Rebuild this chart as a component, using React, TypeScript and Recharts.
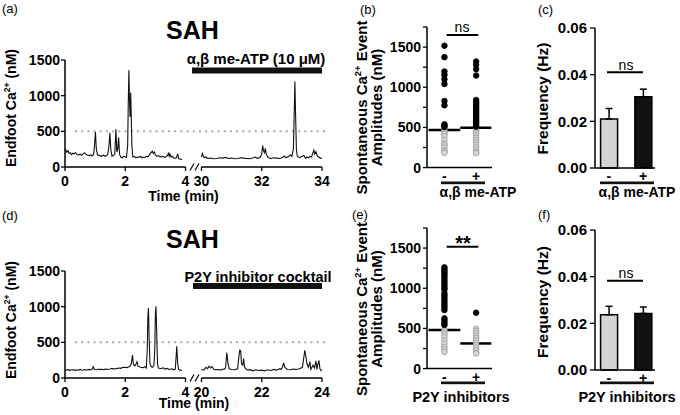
import React from 'react';
import {
  LineChart, Line, XAxis, YAxis, ReferenceLine,
  ScatterChart, Scatter, BarChart, Bar, Cell, ErrorBar,
} from 'recharts';

const FONT = '"Liberation Sans", Arial, Helvetica, sans-serif';

// ---------- Trace data: [time (min), Ca2+ (nM)] ----------
const traceA_seg1: number[][] = [
  [0.00, 250], [0.03, 240], [0.06, 205], [0.10, 230], [0.14, 190], [0.18, 200], [0.22, 175], [0.26, 195],
  [0.30, 185], [0.35, 200], [0.40, 175], [0.45, 170], [0.50, 180], [0.55, 165], [0.60, 185], [0.65, 200],
  [0.70, 175], [0.75, 165], [0.80, 160], [0.85, 170], [0.90, 155], [0.95, 175], [0.98, 300], [1.01, 490],
  [1.04, 250], [1.08, 170], [1.15, 160], [1.20, 150], [1.28, 165], [1.35, 150], [1.42, 175], [1.46, 300],
  [1.49, 480], [1.52, 250], [1.56, 150], [1.60, 160], [1.65, 180], [1.67, 350], [1.69, 530], [1.72, 210],
  [1.75, 250], [1.78, 415], [1.81, 180], [1.85, 140], [1.90, 130], [1.95, 150], [2.00, 145], [2.04, 135],
  [2.08, 300], [2.10, 900], [2.12, 1356], [2.14, 950], [2.16, 700], [2.17, 780], [2.18, 1040], [2.20, 700],
  [2.22, 300], [2.25, 140], [2.30, 150], [2.35, 130], [2.40, 140], [2.45, 135], [2.50, 150], [2.55, 130],
  [2.60, 140], [2.65, 135], [2.70, 150], [2.75, 140], [2.80, 170], [2.85, 200], [2.90, 220], [2.93, 190],
  [2.97, 210], [3.00, 170], [3.05, 150], [3.10, 160], [3.15, 145], [3.20, 140], [3.25, 150], [3.30, 135],
  [3.35, 145], [3.40, 160], [3.43, 190], [3.46, 150], [3.48, 185], [3.52, 140], [3.56, 150], [3.60, 130],
  [3.65, 120], [3.70, 130], [3.74, 185], [3.77, 120], [3.82, 110], [3.88, 105],
];
const traceA_seg2: number[][] = [
  [30.00, 140], [30.03, 190], [30.06, 150], [30.10, 130], [30.15, 140], [30.20, 120], [30.30, 125], [30.40, 115],
  [30.50, 120], [30.60, 130], [30.70, 125], [30.80, 135], [30.90, 120], [31.00, 125], [31.10, 115], [31.20, 120],
  [31.30, 130], [31.40, 125], [31.50, 120], [31.60, 115], [31.70, 125], [31.80, 140], [31.85, 120], [31.90, 125],
  [31.95, 140], [32.00, 180], [32.03, 300], [32.06, 230], [32.09, 200], [32.12, 260], [32.15, 180], [32.20, 140],
  [32.25, 125], [32.30, 120], [32.40, 130], [32.50, 125], [32.60, 120], [32.70, 135], [32.75, 155], [32.80, 130],
  [32.90, 150], [32.95, 170], [33.00, 150], [33.05, 250], [33.08, 800], [33.10, 1200], [33.12, 800], [33.15, 250],
  [33.18, 150], [33.25, 130], [33.30, 140], [33.40, 160], [33.45, 120], [33.50, 140], [33.55, 130], [33.60, 150],
  [33.65, 140], [33.70, 200], [33.73, 235], [33.76, 180], [33.80, 215], [33.85, 150], [33.90, 140], [33.95, 120],
  [34.00, 125],
];
const traceD_seg1: number[][] = [
  [0.00, 115], [0.05, 110], [0.10, 120], [0.15, 105], [0.20, 115], [0.25, 110], [0.30, 118], [0.35, 105],
  [0.40, 115], [0.45, 110], [0.50, 120], [0.55, 112], [0.60, 108], [0.65, 118], [0.70, 110], [0.75, 115],
  [0.80, 120], [0.85, 112], [0.90, 125], [0.94, 157], [0.98, 120], [1.05, 115], [1.10, 125], [1.15, 118],
  [1.20, 122], [1.30, 115], [1.35, 128], [1.40, 120], [1.50, 125], [1.55, 135], [1.60, 128], [1.70, 132],
  [1.80, 140], [1.85, 135], [1.90, 145], [2.00, 150], [2.05, 145], [2.10, 155], [2.15, 160], [2.20, 200],
  [2.24, 320], [2.27, 190], [2.32, 170], [2.36, 200], [2.39, 227], [2.42, 170], [2.50, 150], [2.60, 145],
  [2.65, 160], [2.70, 140], [2.73, 400], [2.75, 850], [2.77, 982], [2.79, 600], [2.82, 200], [2.86, 160],
  [2.90, 150], [2.95, 170], [2.98, 400], [3.00, 900], [3.02, 1005], [3.04, 700], [3.07, 200], [3.10, 140],
  [3.20, 130], [3.25, 145], [3.30, 125], [3.40, 135], [3.45, 120], [3.55, 130], [3.60, 115], [3.66, 125],
  [3.68, 250], [3.71, 445], [3.74, 200], [3.77, 120], [3.82, 110], [3.88, 105],
];
const traceD_seg2: number[][] = [
  [20.00, 125], [20.05, 110], [20.10, 120], [20.15, 150], [20.20, 130], [20.25, 165], [20.30, 140], [20.35, 160],
  [20.40, 125], [20.45, 115], [20.55, 120], [20.65, 110], [20.70, 125], [20.75, 120], [20.80, 140], [20.84, 357],
  [20.88, 200], [20.92, 130], [21.00, 120], [21.10, 115], [21.20, 130], [21.24, 300], [21.27, 389], [21.30, 380],
  [21.33, 200], [21.37, 180], [21.40, 273], [21.43, 150], [21.50, 120], [21.55, 110], [21.60, 120], [21.70, 100],
  [21.80, 115], [21.90, 105], [22.00, 110], [22.10, 100], [22.20, 115], [22.30, 105], [22.40, 120], [22.50, 110],
  [22.60, 130], [22.65, 120], [22.70, 170], [22.73, 213], [22.76, 150], [22.85, 120], [22.95, 115], [23.05, 125],
  [23.15, 120], [23.25, 130], [23.35, 150], [23.40, 300], [23.43, 389], [23.47, 287], [23.50, 200], [23.55, 150],
  [23.60, 230], [23.63, 120], [23.70, 180], [23.75, 140], [23.80, 240], [23.83, 120], [23.87, 200], [23.90, 245],
  [23.93, 130], [23.97, 105], [24.00, 110],
];
const traceA_ticks = ['0', '2', '4', '30', '32', '34'];
const traceD_ticks = ['0', '2', '4', '20', '22', '24'];
const traceYTicks = [0, 500, 1000, 1500];
const threshold = 500;

// ---------- Event amplitudes (nM) ----------
const bMinus = [1517, 1375, 1196, 1154, 1100, 1042, 829, 775, 538, 520, 505, 480, 446, 420, 392, 342, 300, 279, 250, 217, 200, 183];
const bPlus = [1321, 1279, 1225, 1146, 842, 825, 805, 790, 770, 750, 730, 710, 690, 670, 650, 630, 610, 590, 570, 550, 530, 510,
  470, 450, 430, 400, 370, 340, 310, 280, 250, 220, 190, 180];
const bMeans = [467, 496];
const eMinus = [1260, 1235, 1210, 1185, 1160, 1130, 1100, 1070, 1040, 1010, 985, 938, 910, 880, 850, 820, 790, 760, 729,
  625, 600, 570, 542, 479, 450, 420, 390, 350, 310, 270, 240, 208];
const ePlus = [696, 495, 470, 440, 410, 380, 350, 320, 290, 260, 230, 200, 188];
const eMeans = [479, 313];
const ampYTicks = [0, 250, 500, 750, 1000, 1250, 1500, 1750];
const condLabels = ['-', '+'];

// ---------- Frequency (Hz) ----------
const cFreq = [0.021, 0.0305];
const cSem = [0.0045, 0.0033];
const fFreq = [0.0237, 0.0242];
const fSem = [0.0036, 0.0028];
const freqYTicks = [0, 0.02, 0.04, 0.06];
const barFills = ['#d4d4d4', '#111111'];

function XTick(props: any) {
  const { x, y, index, labels, size } = props;
  return (
    <text x={x} y={y} dy={(size || 14) * 0.71} textAnchor="middle" fontFamily={FONT} fontWeight="bold" fontSize={size || 14} fill="#000">
      {labels[index]}
    </text>
  );
}
function YTick(props: any) {
  const { x, y, payload, fmt, size } = props;
  const s = fmt ? fmt(payload.value) : String(payload.value);
  if (!s) return null;
  return (
    <text x={x} y={y} dy={(size || 14) * 0.36} textAnchor="end" fontFamily={FONT} fontWeight="bold" fontSize={size || 14} fill="#000">
      {s}
    </text>
  );
}

const GAP = 0.53;
function buildTrace(seg1: number[][], seg2: number[][]) {
  const start2 = seg2[0][0];
  const out: any[] = seg1.map(([t, v]) => ({ x: t, v }));
  out.push({ x: 4 + GAP / 2, v: null });
  seg2.forEach(([t, v]) => out.push({ x: t - start2 + 4 + GAP, v }));
  return out;
}

function TracePanel({ top, seg1, seg2, labels }: any) {
  const data = buildTrace(seg1, seg2);
  const xt = [0, 2, 4, 4 + GAP, 6 + GAP, 8 + GAP];
  return (
    <div style={{ position: 'absolute', left: 25, top }}>
      <LineChart width={307} height={142} data={data} margin={{ top: 10, right: 10, left: 0, bottom: 0 }}>
        <XAxis type="number" dataKey="x" domain={[0, 8 + GAP]} ticks={xt} interval={0}
          axisLine={false} tickSize={4} tickMargin={5}
          tickLine={{ stroke: '#000', strokeWidth: 1.3 }} tick={<XTick labels={labels} />} height={25} />
        <YAxis type="number" domain={[0, 1500]} ticks={traceYTicks} interval={0} width={40} tickSize={4} tickMargin={1}
          axisLine={{ stroke: '#000', strokeWidth: 1.5 }} tickLine={{ stroke: '#000', strokeWidth: 1.3 }} tick={<YTick />} />
        <ReferenceLine segment={[{ x: 0.33, y: threshold }, { x: 8.73, y: threshold }]} ifOverflow="visible"
          stroke="#a8a8a8" strokeWidth={2} strokeDasharray="2 4.2" />
        <ReferenceLine segment={[{ x: 0, y: 0 }, { x: 4, y: 0 }]} ifOverflow="visible" stroke="#000" strokeWidth={1.5} />
        <ReferenceLine segment={[{ x: 4 + GAP, y: 0 }, { x: 8 + GAP, y: 0 }]} ifOverflow="visible" stroke="#000" strokeWidth={1.5} />
        <Line type="linear" dataKey="v" dot={false} stroke="#111" strokeWidth={1.1} isAnimationActive={false} connectNulls={false} />
      </LineChart>
    </div>
  );
}

function Dot(props: any) {
  const { cx, cy, payload } = props;
  const black = payload.y >= threshold;
  return <circle cx={cx} cy={cy} r={2.8} fill={black ? '#000' : '#d6d6d6'} stroke={black ? '#000' : '#9a9a9a'} strokeWidth={0.8} />;
}

function DotPanel({ top, minus, plus, means }: any) {
  const data = [...minus.map((v: number) => ({ x: 1, y: v })), ...plus.map((v: number) => ({ x: 2, y: v }))];
  const grays = data.filter((d) => d.y < threshold);
  const blacks = data.filter((d) => d.y >= threshold);
  return (
    <div style={{ position: 'absolute', left: 377, top }}>
      <ScatterChart width={123} height={175.6} margin={{ top: 10, right: 8, left: 0, bottom: 0 }}>
        <XAxis type="number" dataKey="x" domain={[0.45, 2.5]} ticks={[1, 2]} interval={0}
          axisLine={{ stroke: '#000', strokeWidth: 1.5 }}
          tickLine={false} tickSize={0} tickMargin={3} tick={<XTick labels={condLabels} />} height={25} />
        <YAxis type="number" dataKey="y" domain={[0, 1750]} ticks={ampYTicks} interval={0} width={50}
          tickSize={4} tickMargin={2}
          axisLine={{ stroke: '#000', strokeWidth: 1.5 }} tickLine={{ stroke: '#000', strokeWidth: 1.3 }}
          tick={<YTick fmt={(v: number) => (v % 500 === 0 ? String(v) : '')} />} />
        <Scatter data={grays} shape={<Dot />} isAnimationActive={false} />
        <Scatter data={blacks} shape={<Dot />} isAnimationActive={false} />
        <ReferenceLine segment={[{ x: 0.5, y: means[0] }, { x: 1.5, y: means[0] }]} ifOverflow="visible" stroke="#000" strokeWidth={2.5} />
        <ReferenceLine segment={[{ x: 1.5, y: means[1] }, { x: 2.48, y: means[1] }]} ifOverflow="visible" stroke="#000" strokeWidth={2.5} />
      </ScatterChart>
    </div>
  );
}

function BarPanel({ top, vals, sems }: any) {
  const data = vals.map((v: number, i: number) => ({ x: i + 1, v, err: [0, sems[i]] }));
  return (
    <div style={{ position: 'absolute', left: 545, top }}>
      <BarChart width={120} height={175} data={data} margin={{ top: 10, right: 10, left: 0, bottom: 0 }} barSize={17}>
        <XAxis type="number" dataKey="x" domain={[0.6, 2.35]} ticks={[1, 2]} interval={0}
          axisLine={{ stroke: '#000', strokeWidth: 1.5 }}
          tickLine={false} tickSize={0} tickMargin={3} tick={<XTick labels={condLabels} />} height={25} />
        <YAxis type="number" domain={[0, 0.06]} ticks={freqYTicks} interval={0} width={50}
          tickSize={5} tickMargin={3}
          axisLine={{ stroke: '#000', strokeWidth: 1.5 }} tickLine={{ stroke: '#000', strokeWidth: 1.3 }}
          tick={<YTick size={15} fmt={(v: number) => v.toFixed(2)} />} />
        <Bar dataKey="v" isAnimationActive={false}>
          {data.map((_d: any, i: number) => (
            <Cell key={i} fill={barFills[i]} stroke="#000" strokeWidth={1.5} />
          ))}
          <ErrorBar dataKey="err" direction="y" width={3.5} stroke="#000" strokeWidth={1.5} />
        </Bar>
      </BarChart>
    </div>
  );
}

function SupLabel({ x, y, pre, post, size }: any) {
  return (
    <text transform={`translate(${x},${y}) rotate(-90)`} textAnchor="middle" fontSize={size} fontWeight="bold" fontFamily={FONT} fill="#000">
      {pre}<tspan dy={-size * 0.4} fontSize={size * 0.62}>2+</tspan><tspan dy={size * 0.4}>{post}</tspan>
    </text>
  );
}

export default function App() {
  const T = (p: any) => <text fontFamily={FONT} fill="#000" {...p} />;
  return (
    <div style={{ position: 'absolute', left: 0, top: 0, width: 680, height: 415, background: '#fff', overflow: 'hidden' }}>
      <TracePanel top={50} seg1={traceA_seg1} seg2={traceA_seg2} labels={traceA_ticks} />
      <TracePanel top={261} seg1={traceD_seg1} seg2={traceD_seg2} labels={traceD_ticks} />
      <DotPanel top={16.7} minus={bMinus} plus={bPlus} means={bMeans} />
      <DotPanel top={217.7} minus={eMinus} plus={ePlus} means={eMeans} />
      <BarPanel top={18.3} vals={cFreq} sems={cSem} />
      <BarPanel top={219.5} vals={fFreq} sems={fSem} />
      <svg width={680} height={415} style={{ position: 'absolute', left: 0, top: 0, pointerEvents: 'none' }}>
        {/* panel letters */}
        <T x={2} y={13} fontSize={13}>(a)</T>
        <T x={360} y={14} fontSize={13}>(b)</T>
        <T x={538} y={14} fontSize={13}>(c)</T>
        <T x={2} y={220} fontSize={13}>(d)</T>
        <T x={352} y={219} fontSize={13}>(e)</T>
        <T x={538} y={219} fontSize={13}>(f)</T>
        {/* titles */}
        <T x={192.5} y={39} fontSize={25} fontWeight="bold" textAnchor="middle">SAH</T>
        <T x={192.5} y={248} fontSize={25} fontWeight="bold" textAnchor="middle">SAH</T>
        {/* treatment bars */}
        <T x={256} y={64} fontSize={15} fontWeight="bold" textAnchor="middle">α,β me-ATP (10 μM)</T>
        <rect x={192} y={67.5} width={130} height={6} fill="#111" />
        <T x={258} y={282} fontSize={14.5} fontWeight="bold" textAnchor="middle">P2Y inhibitor cocktail</T>
        <rect x={193} y={283} width={129} height={6} fill="#111" />
        {/* x labels */}
        <T x={183.5} y={200.5} fontSize={14} fontWeight="bold" textAnchor="middle">Time (min)</T>
        <T x={194} y={408} fontSize={14} fontWeight="bold" textAnchor="middle">Time (min)</T>
        {/* axis breaks */}
        <g stroke="#000" strokeWidth={1.2}>
          <line x1={190} y1={170.5} x2={194} y2={163.5} />
          <line x1={195} y1={170.5} x2={199} y2={163.5} />
          <line x1={190} y1={381.5} x2={194} y2={374.5} />
          <line x1={195} y1={381.5} x2={199} y2={374.5} />
        </g>
        {/* y labels */}
        <SupLabel x={16} y={108} pre="Endfoot Ca" post=" (nM)" size={14} />
        <SupLabel x={16} y={320} pre="Endfoot Ca" post=" (nM)" size={14} />
        <SupLabel x={367} y={107.5} pre="Spontaneous Ca" post=" Event" size={15} />
        <T transform="translate(382,107.5) rotate(-90)" textAnchor="middle" fontSize={15} fontWeight="bold">Amplitudes (nM)</T>
        <SupLabel x={367} y={309} pre="Spontaneous Ca" post=" Event" size={15} />
        <T transform="translate(382,309) rotate(-90)" textAnchor="middle" fontSize={15} fontWeight="bold">Amplitudes (nM)</T>
        <T transform="translate(548,98.5) rotate(-90)" textAnchor="middle" fontSize={15.5} fontWeight="bold">Frequency (Hz)</T>
        <T transform="translate(548,302) rotate(-90)" textAnchor="middle" fontSize={15.5} fontWeight="bold">Frequency (Hz)</T>
        {/* underlines and group labels */}
        <rect x={441} y={181.5} width={44} height={2.7} fill="#111" />
        <rect x={600} y={181.5} width={54} height={2.7} fill="#111" />
        <rect x={441} y={381.5} width={44} height={2.7} fill="#111" />
        <rect x={600} y={381.5} width={54} height={2.7} fill="#111" />
        <T x={478} y={197} fontSize={14} fontWeight="bold" textAnchor="middle">α,β me-ATP</T>
        <T x={637} y={197} fontSize={14} fontWeight="bold" textAnchor="middle">α,β me-ATP</T>
        <T x={461} y={402} fontSize={14.5} fontWeight="bold" textAnchor="middle">P2Y inhibitors</T>
        <T x={627} y={402} fontSize={14.5} fontWeight="bold" textAnchor="middle">P2Y inhibitors</T>
        {/* significance */}
        <line x1={446.7} y1={35} x2={478.3} y2={35} stroke="#000" strokeWidth={2} />
        <T x={462} y={32} fontSize={14} textAnchor="middle">ns</T>
        <line x1={607} y1={72.3} x2={643} y2={72.3} stroke="#000" strokeWidth={2} />
        <T x={626} y={69.5} fontSize={14} textAnchor="middle">ns</T>
        <line x1={446.7} y1={246.7} x2={478.3} y2={246.7} stroke="#000" strokeWidth={2} />
        <T x={463} y={250} fontSize={20} fontWeight="bold" textAnchor="middle">**</T>
        <line x1={607} y1={280.7} x2={643} y2={280.7} stroke="#000" strokeWidth={2} />
        <T x={626} y={278} fontSize={14} textAnchor="middle">ns</T>
      </svg>
    </div>
  );
}
